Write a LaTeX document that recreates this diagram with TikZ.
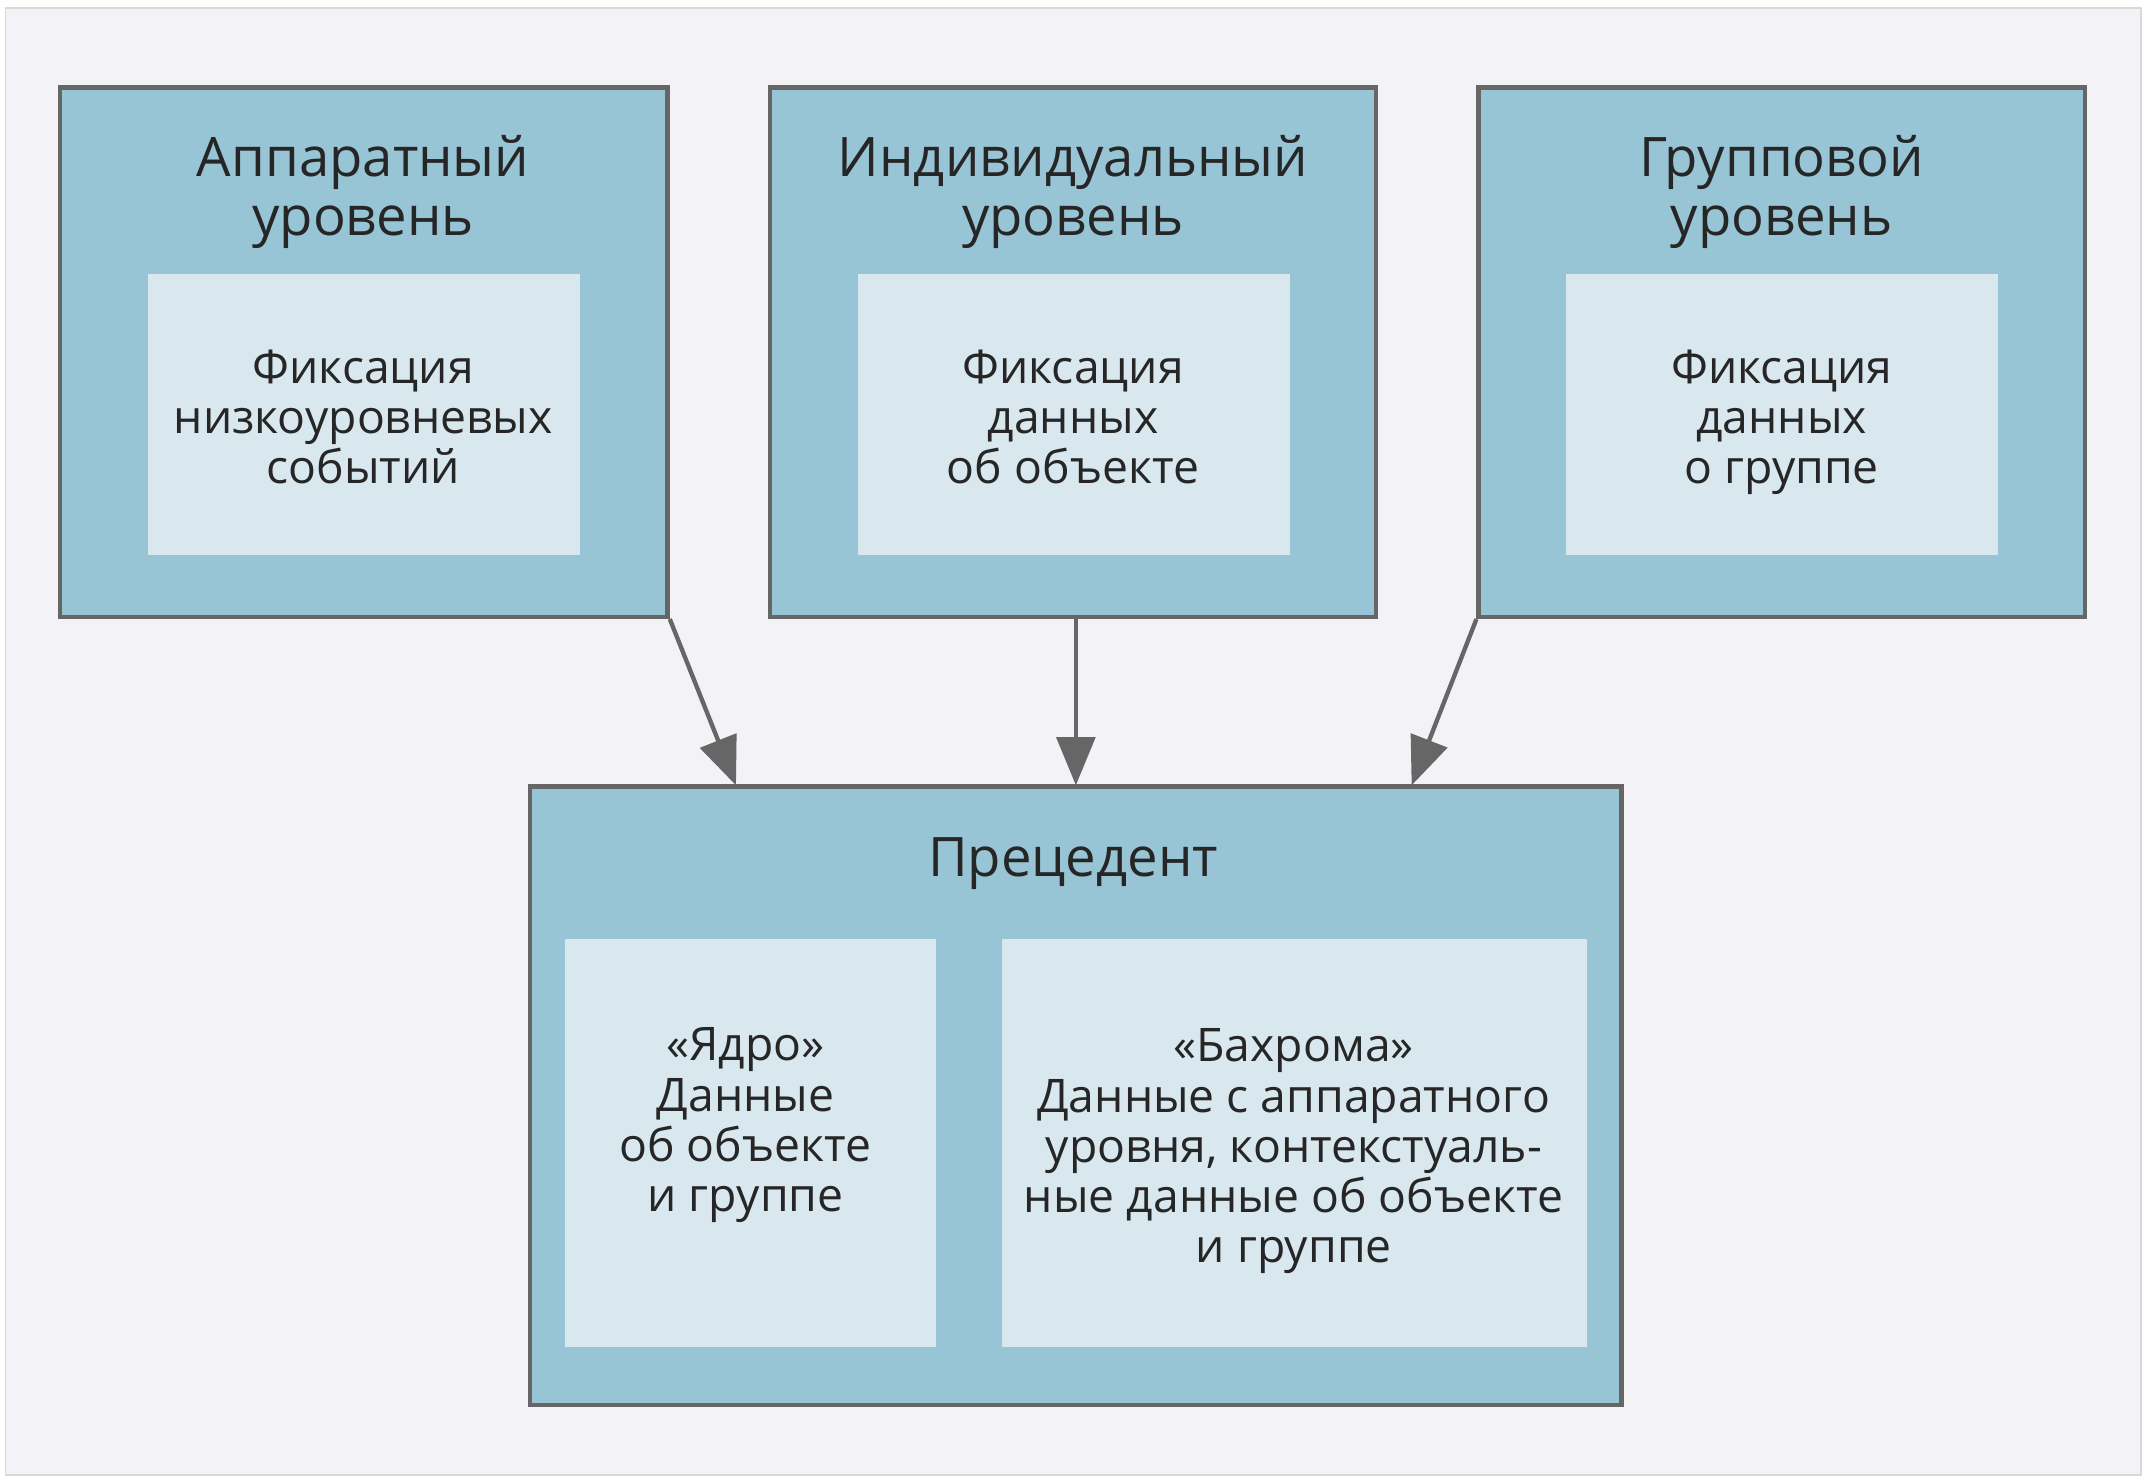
\documentclass[tikz,border=0pt]{standalone}
\usepackage{fontspec}
\setmainfont{Open Sans}
\usetikzlibrary{arrows.meta}
\definecolor{bgfill}{RGB}{242,242,247}
\definecolor{outerfill}{RGB}{152,197,213}
\definecolor{innerfill}{RGB}{217,232,239}
\definecolor{edge}{RGB}{102,102,102}

\begin{document}
\begin{tikzpicture}[x=0.01cm,y=-0.01cm]
    \path[use as bounding box] (0,0) rectangle (1568,1080);

    \tikzset{ outer/.style ={draw=edge, fill=outerfill, line width=0.9pt, inner sep=0pt} }
    \tikzset{ inner/.style ={fill=innerfill, inner sep=0pt} }
    \tikzset{ title/.style ={align=center, font=\fontsize{11.3}{12.3}\selectfont, text=black!85} }
    \tikzset{ body/.style  ={align=center, font=\fontsize{9.6}{10.4}\selectfont, text=black!85} }
    \tikzset{ link/.style  ={draw=edge, line width=0.9pt, -{Triangle[length=10pt,width=8pt]}} }

    \draw[draw=black!15, fill=bgfill] (4,6) rectangle (1562,1076);

    % upper level boxes
    \node[outer, minimum width=4.43cm, minimum height=3.86cm] (app) at (265.5,257) {};
    \node[outer, minimum width=4.42cm, minimum height=3.86cm] (ind) at (783,257) {};
    \node[outer, minimum width=4.42cm, minimum height=3.86cm] (grp) at (1300,257) {};

    \node[inner, minimum width=3.15cm, minimum height=2.05cm] (appin) at (265.5,302.5) {};
    \node[inner, minimum width=3.15cm, minimum height=2.05cm] (indin) at (783.5,302.5) {};
    \node[inner, minimum width=3.15cm, minimum height=2.05cm] (grpin) at (1300.5,302.5) {};

    \node[title] (apptitle) at (265,140) {Аппаратный\\уровень};
    \node[title] (indtitle) at (783,140) {Индивидуальный\\уровень};
    \node[title] (grptitle) at (1300,140) {Групповой\\уровень};

    \node[body] (apptext) at (265,304) {Фиксация\\низкоуровневых\\событий};
    \node[body] (indtext) at (783,304) {Фиксация\\данных\\об объекте};
    \node[body] (grptext) at (1300,308) {Фиксация\\данных\\о группе};

    % precedent box
    \node[outer, minimum width=7.96cm, minimum height=4.51cm] (prec) at (785,799.5) {};
    \node[inner, minimum width=2.71cm, minimum height=2.98cm] (core) at (547.5,834) {};
    \node[inner, minimum width=4.27cm, minimum height=2.98cm] (fringe) at (944.5,834) {};

    \node[title] (prectitle) at (783,630) {Прецедент};
    \node[body] (coretext) at (544,821) {«Ядро»\\Данные\\об объекте\\и группе};
    \node[body] (fringetext) at (944,840) {«Бахрома»\\Данные с аппаратного\\уровня, контекстуаль-\\ные данные об объекте\\и группе};

    \coordinate (t1) at (537,573);
    \coordinate (t2) at (785,573);
    \coordinate (t3) at (1030,573);

    \draw[link] (app.south east) -- (t1);
    \draw[link] (ind.south -| t2) -- (t2);
    \draw[link] (grp.south west) -- (t3);
\end{tikzpicture}
\end{document}
